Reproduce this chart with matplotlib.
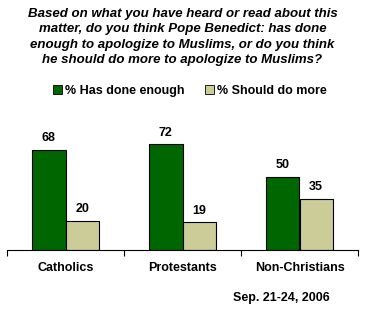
import matplotlib.pyplot as plt
from matplotlib.patches import Patch

groups = ["Catholics", "Protestants", "Non-Christians"]
done_enough = [68, 72, 50]
do_more = [20, 19, 35]
series_names = ["% Has done enough", "% Should do more"]

green = "#006600"
beige = "#cccc99"

plt.rcParams['font.family'] = ['Liberation Sans', 'DejaVu Sans']

fig = plt.figure(figsize=(3.65, 3.13), dpi=100)
ax = fig.add_axes([7 / 365, 1 - 250 / 313, 351 / 365, 117.6 / 313])

x = range(len(groups))
w = 0.285
b1 = ax.bar([i - w / 2 for i in x], done_enough, w, color=green, edgecolor="black", linewidth=0.8)
b2 = ax.bar([i + w / 2 for i in x], do_more, w, color=beige, edgecolor="black", linewidth=0.8)

# value labels on top of each bar
for bars in (b1, b2):
    for rect in bars:
        ax.annotate(str(int(rect.get_height())),
                    (rect.get_x() + rect.get_width() / 2, rect.get_height()),
                    xytext=(0, 4), textcoords="offset points",
                    ha="center", va="bottom", fontsize=9, fontweight="bold")

ax.set_xlim(-0.5, 2.5)
ax.set_ylim(0, 80)
for s in ["top", "right", "left"]:
    ax.spines[s].set_visible(False)
ax.spines["bottom"].set_linewidth(0.8)
ax.set_yticks([])
ax.set_xticks([-0.5, 0.5, 1.5, 2.5])
ax.set_xticklabels([])
ax.tick_params(axis="x", length=4, width=0.8, direction="out")

for i, g in enumerate(groups):
    ax.text(i, -12, g, ha="center", va="center", fontsize=9, fontweight="bold")

fig.text(0.5, 1 - 37 / 313,
         "Based on what you have heard or read about this\n"
         "matter, do you think Pope Benedict: has done\n"
         "enough to apologize to Muslims, or do you think\n"
         "he should do more to apologize to Muslims?",
         ha="center", va="center", fontsize=9.5, fontweight="bold",
         style="italic", linespacing=1.36)

handles = [Patch(facecolor=green, edgecolor="black", linewidth=0.6),
           Patch(facecolor=beige, edgecolor="black", linewidth=0.6)]
fig.legend(handles, series_names, loc="center", bbox_to_anchor=(0.52, 1 - 91 / 313),
           ncol=2, frameon=False, handlelength=0.7, handleheight=0.7,
           handletextpad=0.2, columnspacing=1.7, prop={"weight": "bold", "size": 9})

fig.text(330 / 365, 1 - 298 / 313, "Sep. 21-24, 2006", ha="right", va="center",
         fontsize=9, fontweight="bold")

fig.savefig("out.png", dpi=100)
